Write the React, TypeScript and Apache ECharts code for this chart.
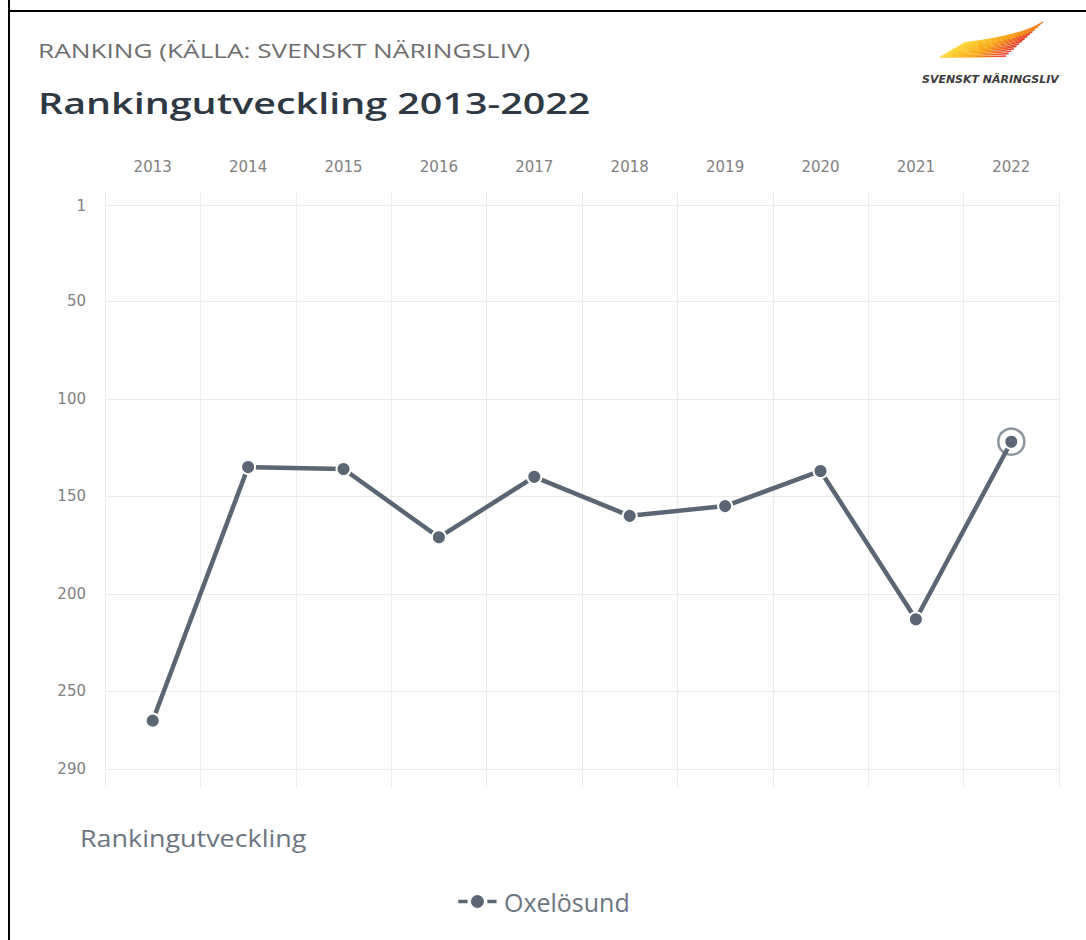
import React, { useEffect, useRef } from "react";
import * as echarts from "echarts";

const years = ["2013", "2014", "2015", "2016", "2017", "2018", "2019", "2020", "2021", "2022"];
const ranks = [265, 135, 136, 171, 140, 160, 155, 137, 213, 122];
const yTicks = [1, 50, 100, 150, 200, 250, 290];
const seriesName = "Oxelösund";

const LINE = "#5a6673";

const LEGEND_ICON =
  "path://M0,4.5H12V10.5H0Z M13.5,7.5A8,8 0 1,1 29.5,7.5A8,8 0 1,1 13.5,7.5Z M31,4.5H43V10.5H31Z";

function wing() {
  const els: any[] = [];
  const n = 15;
  for (let i = 0; i < n; i++) {
    const t = i / (n - 1);
    const sx = 940 + t * 24;
    const sy = 57 - t * 14;
    const ex = 1006 + t * 37;
    const ey = 56 - t * 34;
    const endCol = t < 0.75 ? "#e4352b" : "#f07a1c";
    els.push({
      type: "bezierCurve",
      shape: {
        x1: sx, y1: sy,
        x2: ex, y2: ey,
        cpx1: sx + (ex - sx) * 0.45, cpy1: sy - (sy - ey) * 0.2,
        cpx2: sx + (ex - sx) * 0.8, cpy2: sy - (sy - ey) * 0.5,
      },
      style: {
        stroke: new echarts.graphic.LinearGradient(0, 0, 1, 0, [
          { offset: 0, color: "#fdd93a" },
          { offset: 0.5, color: "#f8a516" },
          { offset: 1, color: endCol },
        ]),
        lineWidth: 1.4,
        fill: null,
      },
      silent: true,
    });
  }
  return els;
}

export default function App() {
  const ref = useRef<HTMLDivElement>(null);
  useEffect(() => {
    document.body.style.margin = "0";
    const chart = echarts.init(ref.current!, null, { renderer: "svg" });
    const last = ranks.length - 1;
    chart.setOption({
      animation: false,
      backgroundColor: "#ffffff",
      legend: {
        data: [{ name: seriesName, icon: LEGEND_ICON }],
        bottom: 21,
        left: "center",
        itemWidth: 43,
        itemHeight: 15,
        itemGap: 10,
        textStyle: { fontFamily: "Open Sans", fontSize: 25, color: "#6b7580" },
      },
      grid: { left: 105, right: 27, top: 192, bottom: 153, containLabel: false },
      xAxis: {
        type: "category",
        position: "top",
        data: years,
        boundaryGap: true,
        axisLine: { show: false },
        axisTick: { show: false },
        axisLabel: { fontFamily: "DejaVu Sans", fontSize: 15, color: "#808080", margin: 18 },
        splitLine: { show: true, lineStyle: { color: "#ececec", width: 1 } },
      },
      yAxis: {
        type: "value",
        inverse: true,
        min: -6,
        max: 299,
        axisLine: { show: false },
        axisTick: { show: false, customValues: yTicks },
        axisLabel: { fontFamily: "DejaVu Sans", fontSize: 15, color: "#808080", margin: 19, customValues: yTicks },
        splitLine: { show: true, lineStyle: { color: "#ececec", width: 1 } },
      },
      series: [
        {
          name: "ring",
          type: "scatter",
          data: ranks.map((v, i) => (i === last ? v : "-")),
          symbol: "circle",
          symbolSize: 26,
          itemStyle: { color: "#ffffff", borderColor: "#707b87", borderWidth: 2.5 },
          z: 1,
          silent: true,
        },
        {
          name: seriesName,
          type: "line",
          data: ranks,
          symbol: "circle",
          symbolSize: 14,
          showAllSymbol: true,
          lineStyle: { color: LINE, width: 4.5 },
          itemStyle: { color: LINE, borderColor: "#ffffff", borderWidth: 2 },
          z: 3,
        },
      ],
      graphic: [
        { type: "line", shape: { x1: 9, y1: 0, x2: 9, y2: 940 }, style: { stroke: "#000", lineWidth: 2 }, silent: true },
        { type: "line", shape: { x1: 8, y1: 11, x2: 1086, y2: 11 }, style: { stroke: "#000", lineWidth: 2 }, silent: true },
        {
          type: "text",
          x: 38,
          y: 50,
          scaleX: 1.31,
          style: {
            text: "RANKING (KÄLLA: SVENSKT NÄRINGSLIV)",
            fontFamily: "Open Sans",
            fontSize: 20,
            fill: "#6e6e6e",
            verticalAlign: "middle",
          },
          silent: true,
        },
        {
          type: "text",
          x: 38,
          y: 103,
          scaleX: 1.36,
          style: {
            text: "Rankingutveckling 2013-2022",
            fontFamily: "Open Sans",
            fontSize: 29,
            fontWeight: 600,
            fill: "#2e3944",
            verticalAlign: "middle",
          },
          silent: true,
        },
        {
          type: "text",
          x: 80,
          y: 838,
          scaleX: 1.17,
          style: {
            text: "Rankingutveckling",
            fontFamily: "Open Sans",
            fontSize: 23,
            fill: "#6b7580",
            verticalAlign: "middle",
          },
          silent: true,
        },
        ...wing(),
        {
          type: "text",
          x: 922,
          y: 79,
          scaleX: 1.1,
          style: {
            text: "SVENSKT NÄRINGSLIV",
            fontFamily: "DejaVu Sans",
            fontSize: 10,
            fontWeight: "bold",
            fontStyle: "italic",
            fill: "#3c3c3c",
            verticalAlign: "middle",
          },
          silent: true,
        },
      ],
    });
    return () => chart.dispose();
  }, []);
  return <div ref={ref} style={{ width: 1086, height: 940 }} />;
}
